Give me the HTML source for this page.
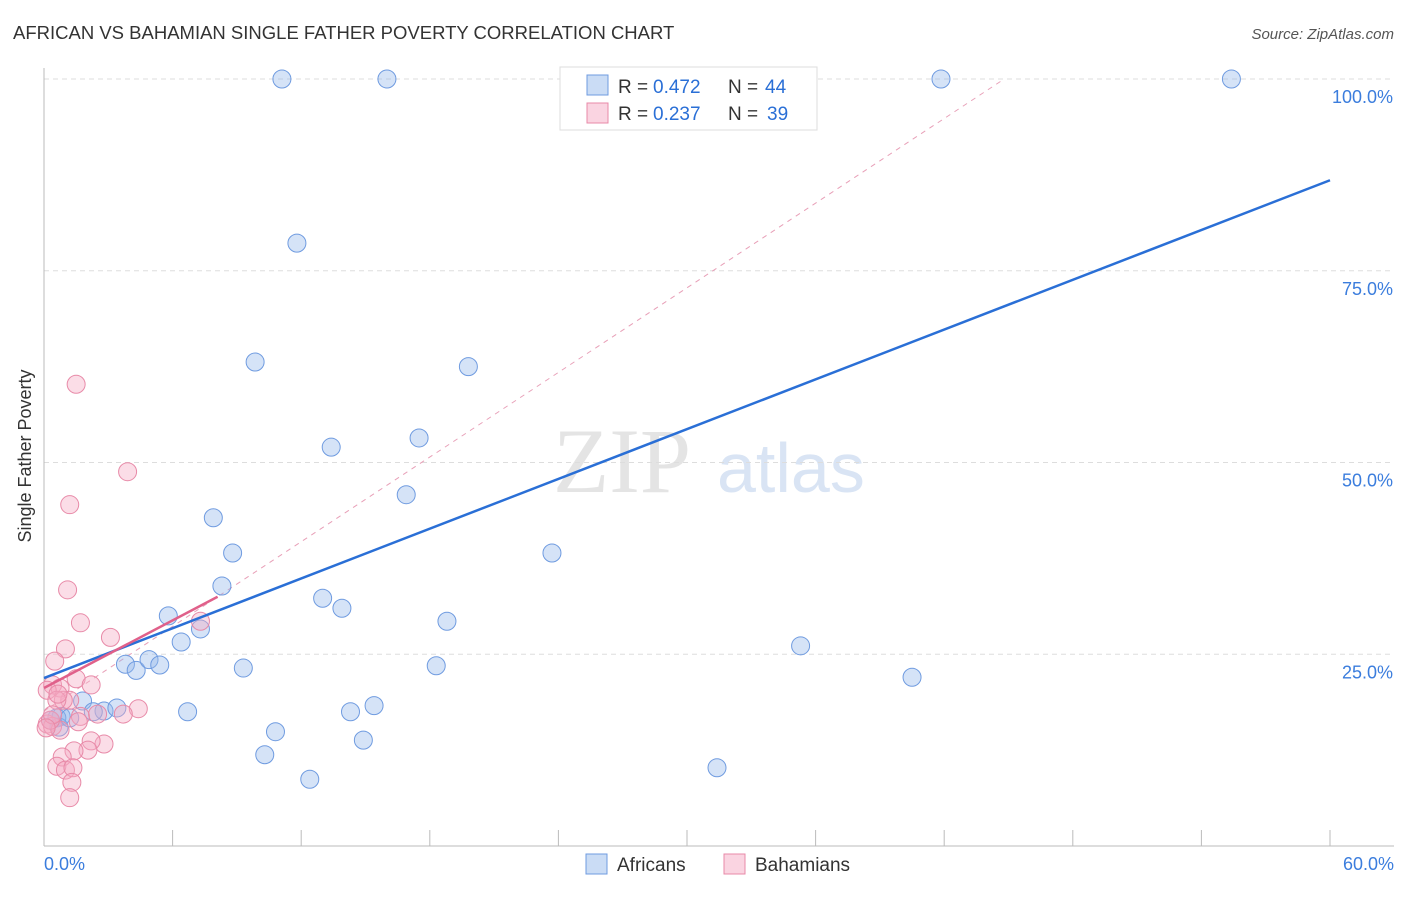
<!DOCTYPE html>
<html><head><meta charset="utf-8"><style>
body{margin:0;background:#fff;font-family:"Liberation Sans",sans-serif;}
</style></head><body>
<svg id="c" width="1406" height="892" xmlns="http://www.w3.org/2000/svg" font-family="Liberation Sans, sans-serif">
<text x="13" y="39" font-size="18.5" fill="#333">AFRICAN VS BAHAMIAN SINGLE FATHER POVERTY CORRELATION CHART</text>
<text x="1394" y="39" font-size="15" fill="#555" font-style="italic" text-anchor="end">Source: ZipAtlas.com</text>
<text x="31" y="456" font-size="18" fill="#333" text-anchor="middle" transform="rotate(-90 31 456)">Single Father Poverty</text>
<g opacity="0.9">
<text x="553" y="492" font-size="92" font-family="Liberation Serif, serif" fill="#e2e2e2">ZIP</text>
<text x="717" y="492" font-size="70" fill="#d5e2f3">atlas</text>
</g>
<g id="grid"></g><g id="axes"></g><g id="marks"></g>
<g>
<rect x="560" y="67" width="257" height="63" fill="#fff" stroke="#ddd"/>
<rect x="587" y="75" width="21" height="20" fill="rgba(150,185,235,0.5)" stroke="#6f9be0"/>
<text x="618" y="93" font-size="19" fill="#333">R =</text>
<text x="653" y="93" font-size="19" fill="#2a6fd6">0.472</text>
<text x="728" y="93" font-size="19" fill="#333">N =</text>
<text x="765" y="93" font-size="19" fill="#2a6fd6">44</text>
<rect x="587" y="103" width="21" height="20" fill="rgba(245,170,195,0.5)" stroke="#e88aa8"/>
<text x="618" y="120" font-size="19" fill="#333">R =</text>
<text x="653" y="120" font-size="19" fill="#2a6fd6">0.237</text>
<text x="728" y="120" font-size="19" fill="#333">N =</text>
<text x="767" y="120" font-size="19" fill="#2a6fd6">39</text>
</g>
<g>
<rect x="586" y="854" width="21" height="20" fill="rgba(150,185,235,0.5)" stroke="#6f9be0"/>
<text x="617" y="871" font-size="19" fill="#333">Africans</text>
<rect x="724" y="854" width="21" height="20" fill="rgba(245,170,195,0.5)" stroke="#e88aa8"/>
<text x="755" y="871" font-size="19" fill="#333">Bahamians</text>
</g>
</svg>
<script>
const yTicks=[25,50,75,100];
const yTickLabels=["25.0%","50.0%","75.0%","100.0%"];
const xTicks=[0,6,12,18,24,30,36,42,48,54,60];
const xTickLabels=["0.0%","60.0%"];
const africansX=[11.1,16.0,26.1,41.85,55.4,11.8,9.85,19.8,17.5,13.4,16.9,7.9,8.8,23.7,8.3,13.0,13.9,5.8,7.3,18.8,6.4,35.3,3.8,4.3,4.9,5.4,9.3,18.3,40.5,1.8,2.8,3.4,2.3,6.7,14.3,15.4,0.8,0.6,10.8,14.9,10.3,12.4,31.4,0.7,1.2,0.3];
const africansY=[100,100,100,100,100,78.6,63.1,62.5,53.2,52.0,45.8,42.8,38.2,38.2,33.9,32.3,31.0,30.0,28.3,29.3,26.6,26.1,23.7,22.9,24.3,23.6,23.2,23.5,22.0,18.9,17.6,18.0,17.5,17.5,17.5,18.3,16.9,16.7,14.9,13.8,11.9,8.7,10.2,15.5,16.7,16.4];
const bahamiansX=[1.5,3.9,1.2,1.1,1.7,3.1,7.3,1.0,0.5,1.5,2.2,0.4,0.75,0.15,1.2,0.9,0.6,4.4,3.7,1.7,2.5,1.6,0.15,0.4,0.75,0.3,2.8,2.2,2.05,1.4,0.85,0.6,1.0,1.35,1.3,1.2,0.4,0.1,0.65];
const bahamiansY=[60.2,48.8,44.5,33.4,29.1,27.2,29.3,25.7,24.1,21.8,21.0,21.0,20.6,20.3,19.0,19.0,19.0,17.9,17.2,16.9,17.2,16.2,15.9,15.6,15.1,16.4,13.3,13.7,12.5,12.4,11.6,10.4,9.9,10.2,8.3,6.3,17.1,15.4,19.8];
const africansTrend=[21.9,86.8];
const bahamiansTrend=[20.6,32.5,8.1];
const bahamiansDashed=[17.6,100,44.8];

const X=v=>44+v/60*1286, Y=v=>846-v/100*767;
const NS="http://www.w3.org/2000/svg";
function mk(tag,attrs,parent){const e=document.createElementNS(NS,tag);for(const k in attrs)e.setAttribute(k,attrs[k]);document.getElementById(parent).appendChild(e);return e;}
yTicks.forEach((t,i)=>{
 const l=mk('line',{x1:44,x2:1394,y1:Y(t),y2:Y(t),stroke:'#ddd','stroke-dasharray':'5,4'},'grid');
 
 
 const tx=mk('text',{x:1393,y:Y(t)+24,'font-size':18,fill:'#3b7ddd','text-anchor':'end'},'axes');
 tx.textContent=yTickLabels[i];
 
 
});
let a=mk('line',{x1:44,x2:44,y1:68,y2:846,stroke:'#bbb'},'axes');


a=mk('line',{x1:44,x2:1394,y1:846,y2:846,stroke:'#bbb'},'axes');


xTicks.forEach(t=>{
 const l=mk('line',{x1:X(t),x2:X(t),y1:830,y2:846,stroke:'#bbb'},'axes');
 
 
});
let t1=mk('text',{x:44,y:870,'font-size':18,fill:'#3b7ddd'},'axes');t1.textContent=xTickLabels[0];


t1=mk('text',{x:1394,y:870,'font-size':18,fill:'#3b7ddd','text-anchor':'end'},'axes');t1.textContent=xTickLabels[1];


let d=mk('line',{x1:X(0),y1:Y(bahamiansDashed[0]),x2:X(bahamiansDashed[2]),y2:Y(bahamiansDashed[1]),stroke:'#e8a0b8','stroke-dasharray':'5,5','stroke-width':1},'marks');


africansX.forEach((x,i)=>{
 const c=mk('circle',{cx:X(x),cy:Y(africansY[i]),r:9,fill:'rgba(150,185,235,0.4)',stroke:'#6f9be0','stroke-width':1},'marks');
 
 
});
bahamiansX.forEach((x,i)=>{
 const c=mk('circle',{cx:X(x),cy:Y(bahamiansY[i]),r:9,fill:'rgba(245,170,195,0.4)',stroke:'#e88aa8','stroke-width':1},'marks');
 
 
});
let tl=mk('line',{x1:X(0),y1:Y(africansTrend[0]),x2:X(60),y2:Y(africansTrend[1]),stroke:'#2a6fd6','stroke-width':2.5},'marks');


tl=mk('line',{x1:X(0),y1:Y(bahamiansTrend[0]),x2:X(bahamiansTrend[2]),y2:Y(bahamiansTrend[1]),stroke:'#e0608a','stroke-width':2.5},'marks');


</script>
</body></html>
